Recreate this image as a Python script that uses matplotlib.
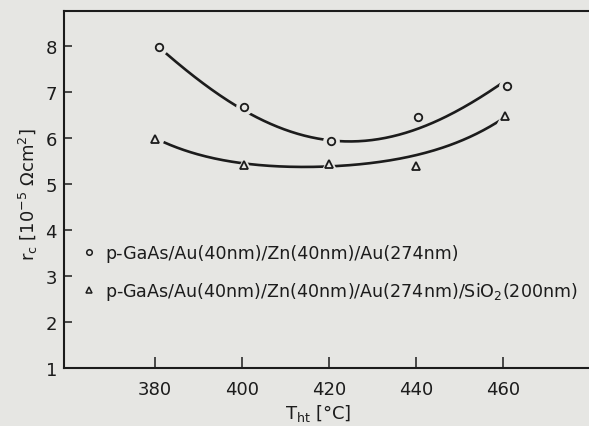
import numpy as np
import matplotlib
matplotlib.use("Agg")
import matplotlib.pyplot as plt
from matplotlib.lines import Line2D

# --- data ---
temp_circ = [381, 400.5, 420.5, 440.5, 461]
rc_circ = [7.98, 6.67, 5.93, 6.46, 7.13]
temp_tri = [380, 400.5, 420, 440, 460.5]
rc_tri = [5.98, 5.41, 5.43, 5.39, 6.48]

# hand-drawn guide curves
guide_circ_t = [382.5, 395.9, 404.4, 413.3, 421.0, 441.8, 452.6, 459.8]
guide_circ_rc = [7.84, 6.89, 6.37, 6.09, 5.94, 6.26, 6.74, 7.20]
guide_tri_t = [382.0, 397.9, 414.2, 420.0, 439.0, 451.5, 459.8]
guide_tri_rc = [5.91, 5.48, 5.38, 5.37, 5.61, 5.98, 6.41]

x_ticks = [380, 400, 420, 440, 460]
y_ticks = [1, 2, 3, 4, 5, 6, 7, 8]

label_circ = "p-GaAs/Au(40nm)/Zn(40nm)/Au(274nm)"
label_tri = "p-GaAs/Au(40nm)/Zn(40nm)/Au(274nm)/SiO$_2$(200nm)"

bg = "#e6e6e3"
ink = "#1c1c1c"

plt.rcParams["font.family"] = ["DejaVu Sans"]
plt.rcParams["mathtext.fontset"] = "dejavusans"

fig = plt.figure(figsize=(5.89, 4.27), dpi=100, facecolor=bg)
ax = fig.add_axes([64 / 589, 1 - 369 / 427, 1 - 64 / 589, (369 - 12) / 427])
ax.set_facecolor(bg)

# smooth guide curves
fc = np.polyfit(guide_circ_t, guide_circ_rc, 4)
ft = np.polyfit(guide_tri_t, guide_tri_rc, 4)
xc = np.linspace(guide_circ_t[0], guide_circ_t[-1], 200)
xt = np.linspace(guide_tri_t[0], guide_tri_t[-1], 200)
ax.plot(xc, np.polyval(fc, xc), color=ink, lw=1.9, zorder=2, solid_capstyle="butt")
ax.plot(xt, np.polyval(ft, xt), color=ink, lw=1.9, zorder=2, solid_capstyle="butt")

# halos (gaps around markers)
ax.plot(temp_circ, rc_circ, ls="none", marker="o", ms=11, mfc=bg, mec=bg, zorder=3)
ax.plot(temp_tri, rc_tri, ls="none", marker="^", ms=11, mfc=bg, mec=bg, zorder=3)
# markers
ax.plot(temp_circ, rc_circ, ls="none", marker="o", ms=5.4, mfc=bg, mec=ink, mew=1.3, zorder=4)
ax.plot(temp_tri, rc_tri, ls="none", marker="^", ms=5.4, mfc=bg, mec=ink, mew=1.3, zorder=4)

ax.set_xlim(359.1, 479.8)
ax.set_ylim(1, 8.76)
ax.set_xticks(x_ticks)
ax.set_yticks(y_ticks)
ax.tick_params(axis="x", direction="in", length=8, width=1.1, pad=9, labelsize=13, colors=ink)
ax.tick_params(axis="y", direction="in", length=6, width=1.1, pad=5, labelsize=13, colors=ink)

for s in ["left", "bottom", "top"]:
    ax.spines[s].set_linewidth(1.5)
    ax.spines[s].set_color(ink)
ax.spines["right"].set_visible(False)

fig.text(318 / 589, 1 - 414 / 427, r"T$_\mathrm{ht}$ [°C]", ha="center", va="center",
         fontsize=13, color=ink)
fig.text(28 / 589, 1 - 195 / 427, r"r$_\mathrm{c}$ [10$^{-5}$ Ωcm$^2$]", ha="center",
         va="center", rotation=90, fontsize=13, color=ink)

handles = [
    Line2D([], [], ls="none", marker="o", ms=4, mfc=bg, mec=ink, mew=1.1),
    Line2D([], [], ls="none", marker="^", ms=4, mfc=bg, mec=ink, mew=1.1),
]
leg = ax.legend(handles, [label_circ, label_tri], loc="center left",
                frameon=False, fontsize=12.6, handlelength=0.6, handletextpad=0.6,
                labelspacing=1.0, borderaxespad=0.0, borderpad=0.0,
                labelcolor=ink)
leg.set_bbox_to_anchor((20 / 525, (369 - 274) / 357), transform=ax.transAxes)

fig.savefig("out.png", dpi=100, facecolor=bg)
